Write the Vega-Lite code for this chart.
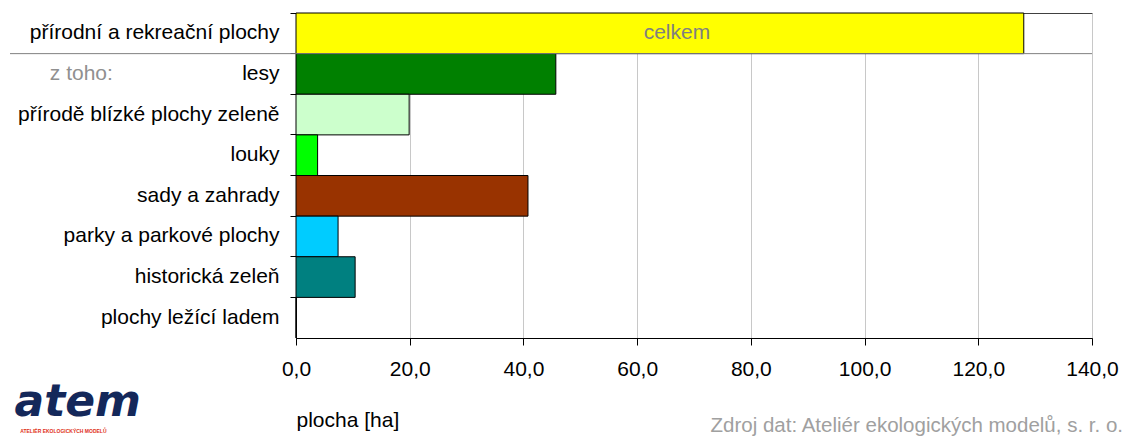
{
  "$schema": "https://vega.github.io/schema/vega-lite/v6.json",
  "width": 796,
  "height": 325,
  "autosize": "none",
  "padding": {"left": 296, "top": 13, "right": 40, "bottom": 98},
  "config": {
    "font": "Liberation Sans",
    "view": {"stroke": "#404040", "strokeWidth": 1}
  },
  "title": {
    "text": "Zdroj dat: Ateliér ekologických modelů, s. r. o.",
    "orient": "bottom",
    "anchor": "end",
    "frame": "group",
    "dx": 31,
    "offset": -18,
    "fontSize": 20.5,
    "fontWeight": "normal",
    "color": "#a0a0a0",
    "font": "Liberation Sans"
  },
  "layer": [
    {
      "data": {
        "values": [
          {"kategorie": "přírodní a rekreační plochy", "plocha": 128.0},
          {"kategorie": "lesy", "plocha": 45.7},
          {"kategorie": "přírodě blízké plochy zeleně", "plocha": 19.9},
          {"kategorie": "louky", "plocha": 3.8},
          {"kategorie": "sady a zahrady", "plocha": 40.8},
          {"kategorie": "parky a parkové plochy", "plocha": 7.4},
          {"kategorie": "historická zeleň", "plocha": 10.4},
          {"kategorie": "plochy ležící ladem", "plocha": 0}
        ]
      },
      "mark": {"type": "bar", "stroke": "#000000", "strokeWidth": 1},
      "encoding": {
        "y": {
          "field": "kategorie",
          "type": "nominal",
          "sort": null,
          "scale": {"paddingInner": 0, "paddingOuter": 0},
          "axis": {
            "title": null,
            "labelFontSize": 21,
            "labelLimit": 0,
            "labelColor": "#000000",
            "labelPadding": 11,
            "tickSize": 6,
            "tickColor": "#000000",
            "domainColor": "#000000",
            "bandPosition": 0,
            "grid": false
          }
        },
        "x": {
          "field": "plocha",
          "type": "quantitative",
          "scale": {"domain": [0, 140], "nice": false},
          "axis": {
            "title": "plocha [ha]",
            "titleFontSize": 21,
            "titleFontWeight": "normal",
            "titleColor": "#000000",
            "titleAnchor": "start",
            "titleAlign": "left",
            "titlePadding": 30,
            "values": [0, 20, 40, 60, 80, 100, 120, 140],
            "labelExpr": "replace(format(datum.value, '.1f'), '.', ',')",
            "labelFontSize": 21,
            "labelFlush": false,
            "labelOverlap": false,
            "labelColor": "#000000",
            "labelPadding": 13,
            "tickSize": 7,
            "tickColor": "#000000",
            "domainColor": "#000000",
            "grid": true,
            "gridColor": "#c8c8c8"
          }
        },
        "color": {
          "field": "kategorie",
          "type": "nominal",
          "legend": null,
          "scale": {
            "domain": ["přírodní a rekreační plochy", "lesy", "přírodě blízké plochy zeleně", "louky", "sady a zahrady", "parky a parkové plochy", "historická zeleň", "plochy ležící ladem"],
            "range": ["#ffff00", "#008000", "#ccffcc", "#00ff00", "#993300", "#00ccff", "#008080", "#ffffff"]
          }
        }
      }
    },
    {
      "data": {"values": [{"popis": "oddělovač"}]},
      "mark": {"type": "rule", "color": "#808080", "strokeWidth": 1},
      "encoding": {
        "x": {"datum": -50.3, "type": "quantitative"},
        "x2": {"datum": 140},
        "y": {"datum": "lesy", "type": "nominal", "bandPosition": 0}
      }
    },
    {
      "data": {"values": [{"popis": "celkem"}]},
      "mark": {"type": "text", "fontSize": 21, "color": "#808080", "align": "center", "baseline": "middle"},
      "encoding": {
        "text": {"field": "popis"},
        "x": {"datum": 67, "type": "quantitative"},
        "y": {"datum": "přírodní a rekreační plochy", "type": "nominal"}
      }
    },
    {
      "data": {"values": [{"popis": "z toho:"}]},
      "mark": {"type": "text", "fontSize": 21, "color": "#909090", "align": "left", "baseline": "middle"},
      "encoding": {
        "text": {"field": "popis"},
        "x": {"datum": -43.3, "type": "quantitative"},
        "y": {"datum": "lesy", "type": "nominal"}
      }
    },
    {
      "data": {"values": [{"popis": "atem"}]},
      "mark": {"type": "text", "fontSize": 44, "fontWeight": "bold", "fontStyle": "italic", "font": "DejaVu Sans", "color": "#14285a", "align": "left", "baseline": "alphabetic", "dy": 98},
      "encoding": {
        "text": {"field": "popis"},
        "x": {"datum": -49.5, "type": "quantitative"},
        "y": {"datum": "plochy ležící ladem", "type": "nominal"}
      }
    },
    {
      "data": {"values": [{"popis": "ATELIÉR EKOLOGICKÝCH MODELŮ"}]},
      "mark": {"type": "text", "fontSize": 5, "fontWeight": "bold", "color": "#e03020", "align": "left", "baseline": "middle", "dy": 113},
      "encoding": {
        "text": {"field": "popis"},
        "x": {"datum": -48.5, "type": "quantitative"},
        "y": {"datum": "plochy ležící ladem", "type": "nominal"}
      }
    }
  ]
}
